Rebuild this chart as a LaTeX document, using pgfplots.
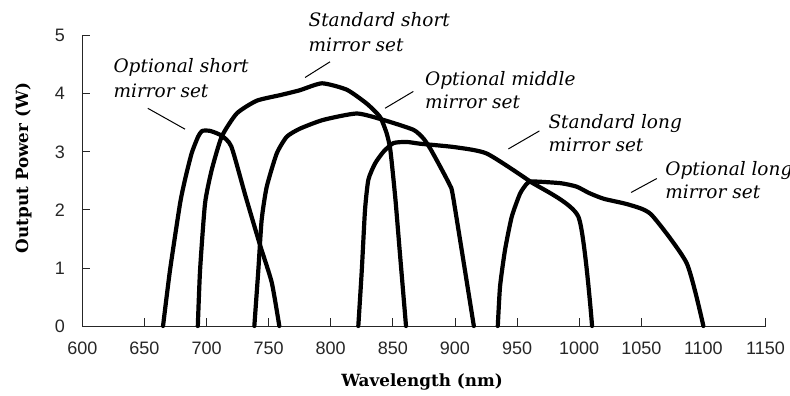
\documentclass[border=0pt]{standalone}
\usepackage{fontspec}
\usepackage{pgfplots}
\pgfplotsset{compat=1.18}
\newfontfamily\serifdj{DejaVu Serif}
\newfontfamily\ticksans{Liberation Sans}
\tikzset{
  annot/.style={font=\serifdj\itshape\fontsize{18.5bp}{20bp}\selectfont, inner sep=0pt, anchor=base west},
  leader/.style={line width=1bp, black},
  curve/.style={black, solid, mark=none, line width=4.2bp, line join=round, line cap=round, smooth, tension=0.35},
}
\begin{document}
\begin{tikzpicture}
\begin{axis}[
  at={(82.3bp,70bp)}, anchor=south west,
  scale only axis, width=683.2bp, height=290.3bp,
  xmin=600, xmax=1150, ymin=0, ymax=5,
  axis x line*=bottom, axis y line*=left,
  axis line style={-, line width=0.8bp, black!85},
  xtick={600,650,...,1150}, ytick={0,1,...,5},
  tick align=inside, major tick length=8bp,
  tick style={line width=0.8bp, black!85},
  /pgf/number format/assume math mode=true,
  /pgf/number format/1000 sep={},
  tick label style={font=\ticksans\fontsize{18bp}{20bp}\selectfont, black!85},
  x tick label style={yshift=-12.5bp},
  y tick label style={xshift=-14bp},
  clip=false,
]
% Optional short mirror set
\addplot[curve] coordinates {(665,0) (670.6,0.96) (678.7,2.11) (683,2.55) (688.1,2.98) (693.2,3.26) (696.5,3.36) (703,3.36) (712,3.28) (720,3.09) (731.5,2.23) (743,1.4) (752.5,0.75) (758.6,0)};
% Standard short mirror set
\addplot[curve] coordinates {(693,0) (694.8,0.96) (698.8,2.11) (704.2,2.69) (712.2,3.26) (724.3,3.66) (740.4,3.88) (760,3.98) (775,4.06) (793,4.18) (812.9,4.07) (829,3.83) (839.7,3.60) (845,3.32) (848,3.03) (852,2.2) (855.5,1.3) (860.6,0)};
% Optional middle mirror set
\addplot[curve] coordinates {(738.5,0) (741.7,0.96) (744.4,1.83) (748.5,2.40) (756.5,2.97) (764.6,3.26) (775.3,3.40) (794,3.55) (821,3.66) (842.3,3.55) (866.5,3.38) (874.6,3.23) (880,3.06) (888,2.75) (896,2.42) (898.7,2.2) (915.2,0)};
% Standard long mirror set
\addplot[curve] coordinates {(822.2,0) (825,0.96) (827.6,2.0) (830.3,2.52) (835.7,2.80) (842.4,3.0) (850.4,3.15) (861.2,3.17) (871.8,3.14) (900,3.08) (925.6,2.97) (960.5,2.49) (999.4,1.88) (1010.4,0)};
% Optional long mirror set
\addplot[curve] coordinates {(934.5,0) (936.3,0.68) (940.3,1.31) (945.7,1.88) (952.4,2.28) (957.8,2.45) (962,2.49) (985,2.46) (998,2.40) (1008,2.29) (1020,2.19) (1040,2.09) (1058,1.92) (1086.6,1.08) (1100,0)};

\node[annot] at (axis cs:625,4.36) {Optional short};
\node[annot] at (axis cs:625,3.93) {mirror set};
\draw[leader] (axis cs:652.7,3.75) -- (axis cs:682.7,3.39);

\node[annot] at (axis cs:782,5.15) {Standard short};
\node[annot] at (axis cs:782,4.72) {mirror set};
\draw[leader] (axis cs:779.3,4.28) -- (axis cs:799.4,4.55);

\node[annot] at (axis cs:875.9,4.15) {Optional middle};
\node[annot] at (axis cs:875.9,3.75) {mirror set};
\draw[leader] (axis cs:843.7,3.75) -- (axis cs:866.5,4.04);

\node[annot] at (axis cs:975.2,3.41) {Standard long};
\node[annot] at (axis cs:975.2,3.0) {mirror set};
\draw[leader] (axis cs:943,3.05) -- (axis cs:968,3.36);

\node[annot] at (axis cs:1069.2,2.60) {Optional long};
\node[annot] at (axis cs:1069.2,2.20) {mirror set};
\draw[leader] (axis cs:1041.8,2.30) -- (axis cs:1062.5,2.54);
\end{axis}
\node[font=\serifdj\bfseries\fontsize{16.8bp}{20bp}\selectfont, anchor=base, inner sep=0pt] at (422bp,9.3bp) {Wavelength (nm)};
\node[font=\serifdj\bfseries\fontsize{16.8bp}{20bp}\selectfont, anchor=base, inner sep=0pt, rotate=90] at (28bp,228bp) {Output Power (W)};
\pgfresetboundingbox
\path[use as bounding box] (0,0) rectangle (790bp,396bp);
\end{tikzpicture}
\end{document}
